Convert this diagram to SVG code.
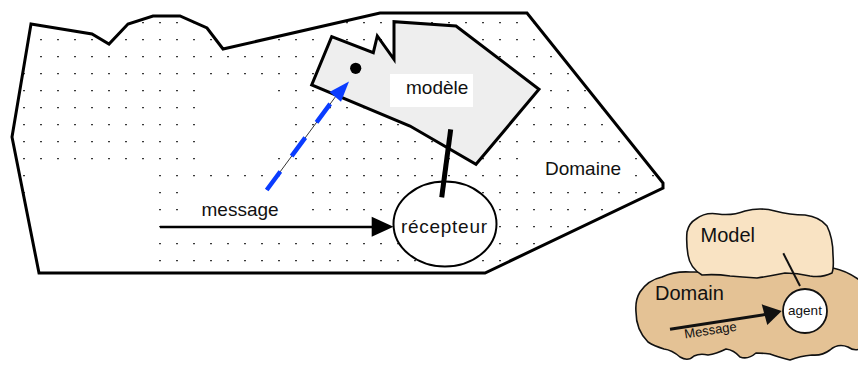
<svg xmlns="http://www.w3.org/2000/svg" width="858" height="368" viewBox="0 0 858 368">
  <style>
    .lbl { font-family: "Liberation Sans", Arial, sans-serif; font-size: 19px; fill: #111; }
    .edge { fill: none; stroke: #000; stroke-width: 3; stroke-linejoin: miter; }
    .blob { stroke: #111; stroke-width: 1.6; stroke-linejoin: round; }
    .small { font-family: "Liberation Sans", Arial, sans-serif; fill: #111; }
  </style>
  <defs>
    <pattern id="dots" patternUnits="userSpaceOnUse" x="23" y="22" width="17" height="17">
      <rect x="0" y="0" width="2" height="1" fill="#3a3a3a"/>
      <rect x="0" y="1" width="2" height="0.5" fill="#999"/>
    </pattern>
    <clipPath id="domainClip">
      <polygon points="31,24 92,34 109,44 128,24 153,16 180,16 207,28 223,49 380,13 527,13 663,183 663,188 485,273 39,273 12,137"/>
    </clipPath>
  </defs>

  <rect width="858" height="368" fill="#fff"/>

  <!-- Domaine: dotted area -->
  <g id="domaine">
    <rect x="0" y="0" width="700" height="290" fill="url(#dots)" clip-path="url(#domainClip)"/>
    <!-- blank text boxes -->
    <g fill="#fff">
      <path d="M199,83 H271 V100 H289 V150 H271 V167 H199 Z"/>
      <rect x="32" y="167" width="125" height="108"/>
      <rect x="186" y="184" width="120" height="34"/>
      <rect x="529" y="150" width="100" height="34"/>
    </g>
    <polygon class="edge" points="31,24 92,34 109,44 128,24 153,16 180,16 207,28 223,49 380,13 527,13 663,183 663,188 485,273 39,273 12,137"/>
    <text class="lbl" x="545" y="175">Domaine</text>
  </g>

  <!-- modèle -->
  <g id="modele">
    <polygon points="331.7,36.7 373.3,52.7 377.3,36 394,59.3 394,21.7 456,26 539,89.3 476,164.3 410,126 311.7,85" fill="#eeeeee" stroke="#000" stroke-width="3" stroke-linejoin="miter"/>
    <rect x="390" y="74" width="83" height="33" fill="#fff"/>
    <text class="lbl" x="406" y="93.5">modèle</text>
    <circle cx="355.7" cy="68.3" r="5.6" fill="#000"/>
  </g>

  <!-- récepteur -->
  <g id="recepteur">
    <ellipse cx="445" cy="224" rx="51.5" ry="42.5" fill="#fff" stroke="#000" stroke-width="2"/>
    <text class="lbl" x="401" y="232.5" textLength="86">récepteur</text>
  </g>

  <!-- connectors -->
  <g id="connectors">
    <!-- message -->
    <line x1="160" y1="227" x2="373" y2="227" stroke="#000" stroke-width="2.6"/>
    <polygon points="371.7,216.7 393.5,226.8 371.7,236.7" fill="#000"/>
    <text class="lbl" x="201.5" y="216">message</text>
    <!-- dashed link towards the model -->
    <line x1="266.7" y1="190" x2="336" y2="96" stroke="#000" stroke-width="0.8"/>
    <line x1="266.7" y1="190" x2="335.3" y2="96.9" stroke="#0a3cff" stroke-width="4.5" stroke-dasharray="23 19"/>
    <polygon points="349,81.5 329.5,92 341,101.7" fill="#0a3cff"/>
    <!-- récepteur to modèle -->
    <line x1="450.7" y1="129.3" x2="441.7" y2="197.3" stroke="#000" stroke-width="5"/>
  </g>

  <!-- small inset: Domain / Model / agent -->
  <g id="inset">
    <g id="inset-domain">
      <path class="blob" fill="#e4c295" d="M640,292 Q648,280 662,277 Q675,271 690,272 Q720,272 760,270 Q800,268 833,268 Q848,271 862,282 L862,348 Q855,352 848,347 Q838,343 830,350 Q822,356 812,355 Q800,356 790,360 Q778,357 770,354 Q762,353 756,353 Q748,360 740,357 Q734,350 726,349 Q716,354 708,355 Q700,353 694,356 Q688,362 680,357 Q672,350 664,349 Q654,346 648,342 Q636,330 636,312 Q635,300 640,292 Z"/>
      <text class="small" x="655" y="300" font-size="20">Domain</text>
    </g>
    <g id="inset-model">
      <path class="blob" fill="#f9e3c3" d="M696,219 Q705,212 718,214 Q732,216 745,211 Q760,207 775,211 Q790,215 805,215 Q820,217 827,226 Q833,238 833,255 Q834,268 832,273 Q822,278 810,276 Q797,273 785,273 Q770,276 757,278 Q742,277 730,276 Q716,274 702,275 Q690,268 688,255 Q686,242 687,232 Q689,223 696,219 Z"/>
      <text class="small" x="700.5" y="242" font-size="20">Model</text>
    </g>
    <g id="inset-links">
      <line x1="783.3" y1="253.3" x2="800" y2="286" stroke="#111" stroke-width="2"/>
      <line x1="670" y1="329.3" x2="765" y2="314.5" stroke="#111" stroke-width="3"/>
      <polygon points="781.7,311 761.7,304.3 767.3,325" fill="#111"/>
      <text class="small" x="685" y="338.5" font-size="13" transform="rotate(-8.6 685 338.5)">Message</text>
    </g>
    <g id="inset-agent">
      <circle cx="805" cy="311" r="22" fill="#fff" stroke="#111" stroke-width="1.8"/>
      <text class="small" x="805" y="314.5" font-size="13.5" text-anchor="middle">agent</text>
    </g>
  </g>
</svg>
